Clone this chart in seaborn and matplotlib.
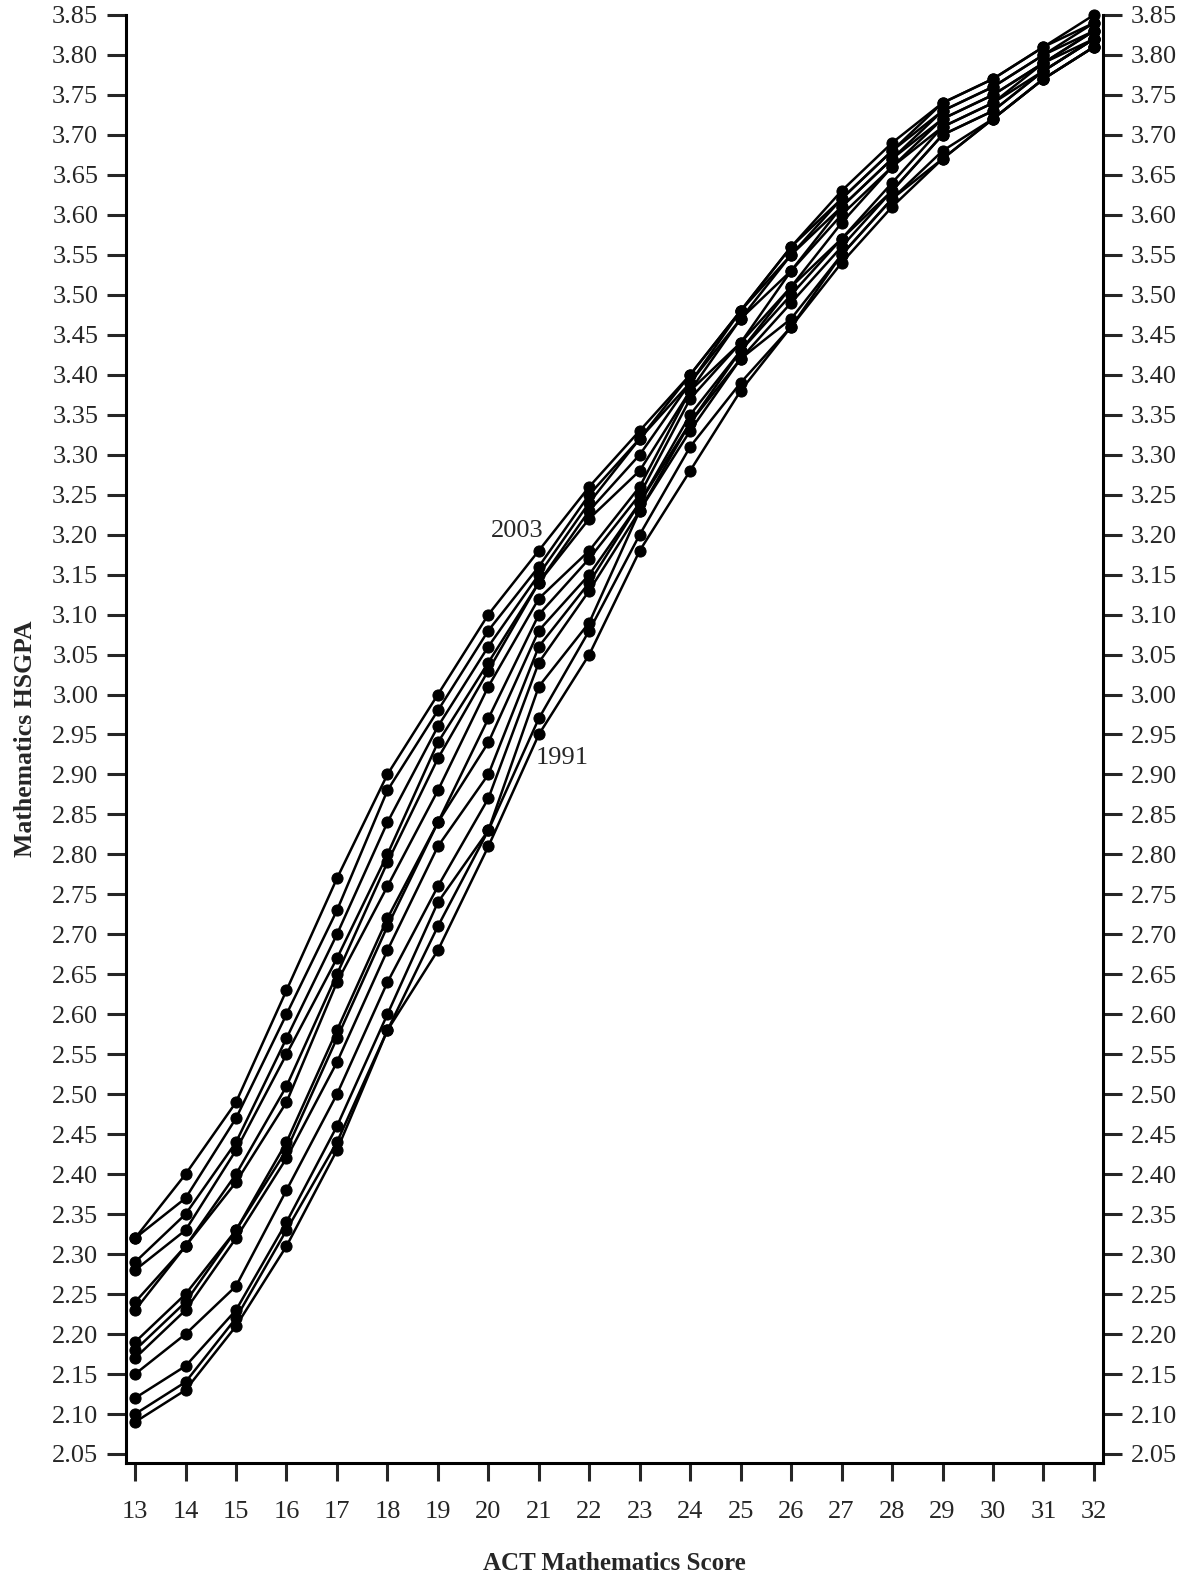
import matplotlib
matplotlib.use("Agg")
import matplotlib.pyplot as plt
import pandas as pd
import seaborn as sns

# ACT math score on the x axis
scores = list(range(13, 33))

# mean mathematics HSGPA per score, one list per year
gpa_2003 = [2.32, 2.40, 2.49, 2.63, 2.77, 2.90, 3.00, 3.10, 3.18, 3.26, 3.33, 3.40, 3.48, 3.56, 3.63, 3.69, 3.74, 3.77, 3.81, 3.85]
gpa_2002 = [2.32, 2.37, 2.47, 2.60, 2.73, 2.88, 2.98, 3.08, 3.16, 3.25, 3.32, 3.40, 3.48, 3.56, 3.62, 3.68, 3.74, 3.77, 3.81, 3.84]
gpa_2001 = [2.29, 2.35, 2.44, 2.57, 2.70, 2.84, 2.96, 3.06, 3.15, 3.24, 3.32, 3.39, 3.48, 3.55, 3.62, 3.68, 3.73, 3.76, 3.80, 3.84]
gpa_2000 = [2.28, 2.33, 2.43, 2.55, 2.67, 2.80, 2.94, 3.04, 3.14, 3.23, 3.30, 3.39, 3.47, 3.55, 3.61, 3.67, 3.73, 3.76, 3.80, 3.83]
gpa_1999 = [2.24, 2.31, 2.40, 2.51, 2.65, 2.79, 2.92, 3.03, 3.14, 3.22, 3.28, 3.38, 3.47, 3.53, 3.61, 3.67, 3.72, 3.75, 3.79, 3.83]
gpa_1998 = [2.23, 2.31, 2.39, 2.49, 2.64, 2.76, 2.88, 3.01, 3.12, 3.18, 3.26, 3.38, 3.44, 3.53, 3.60, 3.66, 3.72, 3.75, 3.79, 3.83]
gpa_1997 = [2.19, 2.25, 2.33, 2.44, 2.58, 2.72, 2.84, 2.97, 3.10, 3.17, 3.25, 3.37, 3.44, 3.51, 3.59, 3.66, 3.71, 3.74, 3.79, 3.82]
gpa_1996 = [2.18, 2.24, 2.33, 2.43, 2.57, 2.71, 2.84, 2.94, 3.08, 3.15, 3.24, 3.35, 3.43, 3.51, 3.57, 3.64, 3.71, 3.74, 3.78, 3.82]
gpa_1995 = [2.17, 2.23, 2.32, 2.42, 2.54, 2.68, 2.81, 2.90, 3.06, 3.14, 3.24, 3.34, 3.43, 3.50, 3.57, 3.63, 3.70, 3.73, 3.78, 3.82]
gpa_1994 = [2.15, 2.20, 2.26, 2.38, 2.50, 2.64, 2.76, 2.87, 3.04, 3.13, 3.23, 3.34, 3.42, 3.49, 3.56, 3.63, 3.70, 3.73, 3.78, 3.82]
gpa_1993 = [2.12, 2.16, 2.23, 2.34, 2.46, 2.60, 2.74, 2.83, 3.01, 3.09, 3.23, 3.33, 3.42, 3.47, 3.55, 3.62, 3.68, 3.72, 3.77, 3.81]
gpa_1992 = [2.10, 2.14, 2.22, 2.33, 2.44, 2.58, 2.71, 2.83, 2.97, 3.08, 3.20, 3.31, 3.39, 3.46, 3.55, 3.62, 3.67, 3.72, 3.77, 3.81]
gpa_1991 = [2.09, 2.13, 2.21, 2.31, 2.43, 2.58, 2.68, 2.81, 2.95, 3.05, 3.18, 3.28, 3.38, 3.46, 3.54, 3.61, 3.67, 3.72, 3.77, 3.81]

years = [1991, 1992, 1993, 1994, 1995, 1996, 1997, 1998, 1999, 2000, 2001, 2002, 2003]
series = [gpa_1991, gpa_1992, gpa_1993, gpa_1994, gpa_1995, gpa_1996, gpa_1997,
          gpa_1998, gpa_1999, gpa_2000, gpa_2001, gpa_2002, gpa_2003]

yticks = [round(2.05 + 0.05 * i, 2) for i in range(37)]

# long format for seaborn
rows = []
for yr, vals in zip(years, series):
    for s, v in zip(scores, vals):
        rows.append({"year": yr, "score": s, "gpa": v})
df = pd.DataFrame(rows)

sns.set_style("ticks")
plt.rcParams["font.family"] = ["Liberation Serif", "DejaVu Serif"]

fig = plt.figure(figsize=(11.9, 15.75), dpi=100)
ax = fig.add_axes([0.1059, 0.0711, 0.821, 0.9194])

sns.lineplot(data=df, x="score", y="gpa", units="year", estimator=None,
             color="black", linewidth=1.8, marker="o", markersize=8,
             markeredgecolor="black", markerfacecolor="black", ax=ax,
             legend=False, clip_on=False)

ax.set_xlim(12.82, 32.18)
ax.set_ylim(2.0387, 3.85)
ax.set_xticks(scores)
ax.set_yticks(yticks)
ax.set_yticklabels([f"{t:.2f}" for t in yticks])

ax.tick_params(axis="y", which="both", direction="out", length=14, width=2.2,
               labelsize=19, left=True, right=True, labelleft=True, labelright=True, pad=6)
ax.tick_params(axis="x", direction="out", length=13, width=2.2, labelsize=19, pad=14)

for side in ["left", "right", "bottom"]:
    ax.spines[side].set_linewidth(2.2)
    ax.spines[side].set_color("black")
ax.spines["top"].set_visible(False)
ax.spines["left"].set_bounds(2.0387, 3.85)
ax.spines["right"].set_bounds(2.0387, 3.85)

ax.set_xlabel("ACT Mathematics Score", fontsize=18, fontweight="bold", labelpad=21)
ax.set_ylabel("Mathematics HSGPA", fontsize=18.5, fontweight="bold", labelpad=11)

ax.text(20.57, 3.204, "2003", fontsize=19, ha="center", va="center")
ax.text(21.46, 2.921, "1991", fontsize=19, ha="center", va="center")

fig.savefig("out.png", dpi=100)
